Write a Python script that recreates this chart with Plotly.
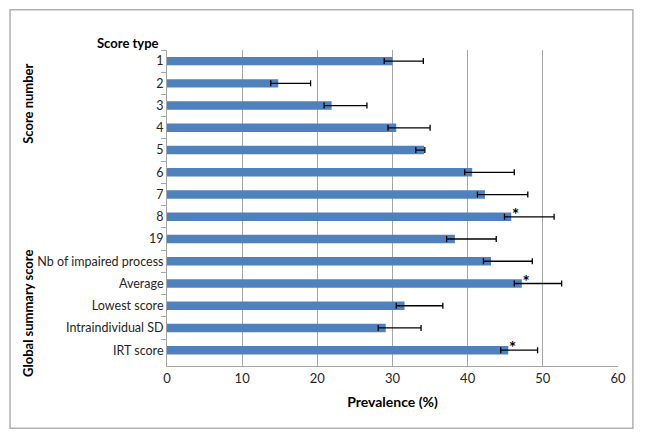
import plotly.graph_objects as go

categories = ["1", "2", "3", "4", "5", "6", "7", "8", "19",
              "Nb of impaired process", "Average", "Lowest score",
              "Intraindividual SD", "IRT score"]
prevalence = [30.0, 14.8, 21.9, 30.5, 34.2, 40.6, 42.3, 45.8, 38.3,
              43.1, 47.2, 31.6, 29.1, 45.4]
err_minus = [1.1, 1.0, 1.0, 1.1, 1.1, 1.0, 1.0, 0.9, 1.1,
             1.0, 1.0, 1.1, 1.0, 1.0]
err_plus = [4.1, 4.3, 4.7, 4.5, 0.1, 5.6, 5.7, 5.7, 5.5,
            5.5, 5.3, 5.1, 4.7, 3.9]
significant = [False, False, False, False, False, False, False, True, False,
               False, True, False, False, True]
x_ticks = [0, 10, 20, 30, 40, 50, 60]

FONT = "Lato"
TXT = "#262626"

fig = go.Figure()
fig.add_trace(go.Bar(
    y=categories, x=prevalence, orientation="h",
    marker=dict(color="#4F81BD", line=dict(width=0)),
    width=0.38,
    error_x=dict(type="data", symmetric=False, array=err_plus,
                 arrayminus=err_minus, color="#000000", thickness=1.3, width=3),
    showlegend=False, hoverinfo="skip",
))

star_y = [c for c, s in zip(categories, significant) if s]
star_x = [v + 0.1 for v, s in zip(prevalence, significant) if s]
fig.add_trace(go.Scatter(
    x=star_x, y=star_y, mode="text", text=["<b>*</b>"] * len(star_y),
    textposition="middle right",
    textfont=dict(family=FONT, size=17, color="#000"),
    showlegend=False, hoverinfo="skip", cliponaxis=False,
))

annotations = [
    dict(x=-0.086, y=1.022, xref="paper", yref="paper", text="<b>Score type</b>",
         showarrow=False, xanchor="center", yanchor="middle",
         font=dict(family=FONT, size=13, color="#000")),
    dict(x=-0.308, y=0.83, xref="paper", yref="paper", text="<b>Score number</b>",
         showarrow=False, textangle=-90, xanchor="center", yanchor="middle",
         font=dict(family=FONT, size=13, color="#000")),
    dict(x=-0.308, y=0.165, xref="paper", yref="paper", text="<b>Global summary score</b>",
         showarrow=False, textangle=-90, xanchor="center", yanchor="middle",
         font=dict(family=FONT, size=13, color="#000")),
]

fig.update_layout(
    width=645, height=438,
    margin=dict(l=167, r=27, t=50, b=72),
    paper_bgcolor="white", plot_bgcolor="white",
    font=dict(family=FONT, size=12, color=TXT),
    annotations=annotations,
    shapes=[dict(type="rect", xref="paper", yref="paper",
                 x0=-0.348, x1=1.033, y0=-0.197, y1=1.127,
                 line=dict(color="#B0B0B0", width=1.5))],
)
fig.update_xaxes(
    range=[0, 60], tickvals=x_ticks, ticktext=[str(t) for t in x_ticks],
    showgrid=True, gridcolor="#A6A6A6", gridwidth=1,
    showline=True, linecolor="#A6A6A6", linewidth=1,
    zeroline=False, ticks="", ticklen=0,
    tickfont=dict(family=FONT, size=13, color=TXT),
    title=dict(text="<b>Prevalence (%)</b>", font=dict(family=FONT, size=14, color="#000"),
               standoff=12),
)
fig.update_yaxes(
    type="category", categoryorder="array", categoryarray=categories,
    autorange="reversed",
    showline=True, linecolor="#A6A6A6", linewidth=1,
    ticks="outside", ticklen=5, tickcolor="#A6A6A6", tickson="boundaries",
    showgrid=False,
    tickfont=dict(family=FONT, size=12.5, color=TXT),
)

fig.write_html("out.html", config={"displayModeBar": False},
               post_script="document.body.style.margin='0';")
